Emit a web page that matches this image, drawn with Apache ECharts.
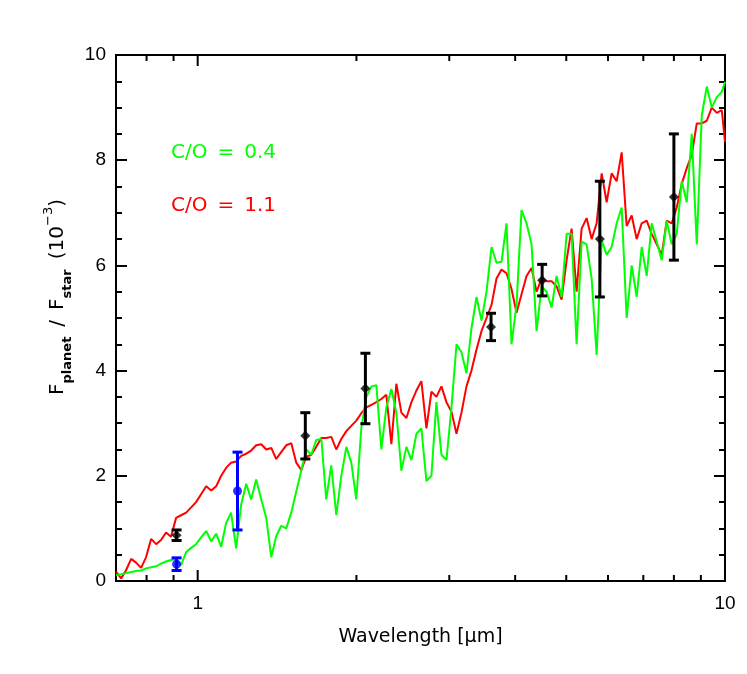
<!DOCTYPE html>
<html>
<head>
<meta charset="utf-8">
<script src="https://cdn.jsdelivr.net/npm/echarts@6/dist/echarts.min.js"></script>
<style>
  html, body { margin: 0; padding: 0; background: #fff; }
  #main { width: 747px; height: 674px; }
</style>
</head>
<body>
<div id="main"></div>
<script>
// wavelength grid (micron) shared by both model spectra
const wavelength = [
  0.700, 0.716, 0.731, 0.748, 0.764, 0.781, 0.798, 0.816, 0.834, 0.852,
  0.871, 0.890, 0.910, 0.930, 0.951, 0.972, 0.993, 1.015, 1.038, 1.061,
  1.084, 1.108, 1.132, 1.157, 1.183, 1.209, 1.236, 1.263, 1.291, 1.320,
  1.349, 1.379, 1.409, 1.440, 1.472, 1.505, 1.538, 1.572, 1.607, 1.642,
  1.678, 1.716, 1.753, 1.792, 1.832, 1.872, 1.914, 1.956, 1.999, 2.043,
  2.089, 2.135, 2.182, 2.230, 2.279, 2.330, 2.381, 2.434, 2.488, 2.543,
  2.599, 2.656, 2.715, 2.775, 2.836, 2.899, 2.963, 3.029, 3.096, 3.164,
  3.234, 3.305, 3.379, 3.453, 3.530, 3.608, 3.687, 3.769, 3.852, 3.937,
  4.024, 4.113, 4.204, 4.297, 4.392, 4.489, 4.588, 4.690, 4.793, 4.899,
  5.008, 5.118, 5.231, 5.347, 5.465, 5.586, 5.709, 5.836, 5.964, 6.096,
  6.231, 6.369, 6.509, 6.653, 6.800, 6.951, 7.104, 7.261, 7.422, 7.586,
  7.753, 7.925, 8.100, 8.279, 8.462, 8.649, 8.840, 9.035, 9.235, 9.439,
  9.648, 9.861, 10.0
]
// C/O = 1.1 model (red)
const fluxCO11 = [
  0.18, 0.05, 0.20, 0.42, 0.35, 0.25, 0.45, 0.80, 0.70, 0.78,
  0.92, 0.84, 1.20, 1.25, 1.30, 1.40, 1.50, 1.65, 1.80, 1.72,
  1.80, 2.00, 2.15, 2.25, 2.27, 2.38, 2.42, 2.48, 2.58, 2.60,
  2.50, 2.53, 2.32, 2.45, 2.58, 2.62, 2.25, 2.11, 2.36, 2.40,
  2.55, 2.72, 2.72, 2.74, 2.50, 2.70, 2.85, 2.95, 3.05, 3.19,
  3.30, 3.35, 3.40, 3.46, 3.54, 2.60, 3.75, 3.20, 3.10, 3.40,
  3.62, 3.80, 2.90, 3.60, 3.50, 3.70, 3.40, 3.22, 2.80, 3.20,
  3.70, 4.00, 4.40, 4.75, 5.00, 5.25, 5.75, 5.92, 5.85, 5.55,
  5.10, 5.45, 5.80, 5.95, 5.50, 5.75, 5.70, 5.70, 5.60, 5.35,
  6.10, 6.70, 5.50, 6.70, 6.90, 6.50, 6.80, 7.75, 7.20, 7.75,
  7.60, 8.15, 6.75, 6.95, 6.50, 6.80, 6.85, 6.60, 6.40, 6.20,
  6.85, 6.80, 7.10, 7.55, 7.85, 8.10, 8.70, 8.70, 8.75, 9.00,
  8.90, 8.95, 8.35
]
// C/O = 0.4 model (green)
const fluxCO04 = [
  0.11, 0.13, 0.15, 0.17, 0.19, 0.20, 0.24, 0.26, 0.28, 0.33,
  0.37, 0.40, 0.42, 0.30, 0.55, 0.63, 0.70, 0.83, 0.95, 0.75,
  0.90, 0.65, 1.10, 1.30, 0.62, 1.45, 1.85, 1.55, 1.93, 1.55,
  1.20, 0.45, 0.85, 1.05, 1.00, 1.30, 1.70, 2.10, 2.50, 2.40,
  2.68, 2.70, 1.55, 2.20, 1.25, 2.00, 2.55, 2.25, 1.55, 2.90,
  3.50, 3.70, 3.72, 2.50, 3.30, 3.65, 3.20, 2.10, 2.55, 2.30,
  2.80, 2.90, 1.90, 2.00, 3.40, 2.40, 2.30, 3.30, 4.50, 4.35,
  3.95, 4.80, 5.40, 4.95, 5.50, 6.35, 6.05, 6.07, 6.80, 4.50,
  5.25, 7.05, 6.80, 6.40, 4.75, 5.60, 5.50, 5.20, 5.80, 5.40,
  6.60, 6.60, 4.50, 6.45, 6.40, 5.75, 4.30, 6.48, 6.20, 6.35,
  6.80, 7.10, 5.00, 6.00, 5.40, 6.35, 5.80, 6.80, 6.45, 6.10,
  6.85, 6.40, 6.60, 7.60, 7.20, 8.50, 6.40, 8.85, 9.40, 9.00,
  9.20, 9.30, 9.49
]
// observed eclipse depths
const blackWl = [0.912, 1.60, 2.08, 3.60, 4.50, 5.79, 8.0]
const blackFlux = [0.87, 2.76, 3.66, 4.83, 5.72, 6.50, 7.30]
const blackErr = [0.10, 0.44, 0.67, 0.26, 0.30, 1.10, 1.20]
const blueWl = [0.912, 1.19]
const blueFlux = [0.32, 1.71]
const blueErr = [0.12, 0.74]
// axis ticks
const xMajorTicks = [1, 10]
const xMinorTicks = [0.8, 0.9, 2, 3, 4, 5, 6, 7, 8, 9]
const yMin = 0
const yMax = 10

const myChart = echarts.init(document.getElementById('main'))

function errorBar(color) {
  return function (params, api) {
    const x = api.value(0), y = api.value(1), e = api.value(2)
    const top = api.coord([x, y + e])
    const bot = api.coord([x, y - e])
    const st = { stroke: color, lineWidth: 3 }
    return {
      type: 'group',
      children: [
        { type: 'line', shape: { x1: top[0], y1: top[1], x2: bot[0], y2: bot[1] }, style: st },
        { type: 'line', shape: { x1: top[0] - 5, y1: top[1], x2: top[0] + 5, y2: top[1] }, style: st },
        { type: 'line', shape: { x1: bot[0] - 5, y1: bot[1], x2: bot[0] + 5, y2: bot[1] }, style: st }
      ]
    }
  }
}

function xTick(len) {
  return function (params, api) {
    const v = api.value(0)
    const b = api.coord([v, yMin])
    const t = api.coord([v, yMax])
    const st = { stroke: '#000', lineWidth: 2 }
    return {
      type: 'group',
      children: [
        { type: 'line', shape: { x1: b[0], y1: b[1], x2: b[0], y2: b[1] - len }, style: st },
        { type: 'line', shape: { x1: t[0], y1: t[1], x2: t[0], y2: t[1] + len }, style: st }
      ]
    }
  }
}

const yAxisCommon = {
  type: 'value',
  min: yMin,
  max: yMax,
  interval: 2,
  axisLine: { show: true, lineStyle: { color: '#000', width: 2 } },
  axisTick: { inside: true, length: 11, lineStyle: { color: '#000', width: 2 } },
  minorTick: { show: true, splitNumber: 4, length: 6, lineStyle: { color: '#000', width: 2 } },
  splitLine: { show: false },
  minorSplitLine: { show: false }
}

myChart.setOption({
  animation: false,
  backgroundColor: '#fff',
  grid: { left: 116, right: 22, top: 55, bottom: 93, show: true, borderColor: '#000', borderWidth: 2 },
  xAxis: {
    type: 'log',
    logBase: 10,
    min: 0.7,
    max: 10,
    axisLine: { show: true, lineStyle: { color: '#000', width: 2 } },
    axisTick: { show: false },
    splitLine: { show: false },
    axisLabel: {
      color: '#000',
      fontSize: 19,
      fontFamily: 'Liberation Sans',
      margin: 13,
      showMinLabel: false,
      formatter: v => (Math.abs(v - 1) < 1e-6 || Math.abs(v - 10) < 1e-6) ? String(Math.round(v)) : ''
    },
    name: 'Wavelength [\u03bcm]',
    nameLocation: 'middle',
    nameGap: 47,
    nameTextStyle: { color: '#000', fontSize: 19, fontFamily: 'DejaVu Sans' }
  },
  yAxis: [
    Object.assign({}, yAxisCommon, {
      position: 'left',
      axisLabel: { color: '#000', fontSize: 19, fontFamily: 'Liberation Sans', margin: 10 },
      name: '{n|F}{sub|planet}{n|\u2002/\u2002F}{sub|star}{n|\u2002(10}{sup|\u22123}{n|)}',
      nameLocation: 'middle',
      nameGap: 42,
      nameTextStyle: {
        color: '#000',
        padding: [0, 0, 0, 42],
        rich: {
          n: { fontSize: 20, fontFamily: 'DejaVu Sans', color: '#000', lineHeight: 32, verticalAlign: 'middle' },
          sub: { fontSize: 13, fontFamily: 'DejaVu Sans', fontWeight: 'bold', color: '#000', lineHeight: 15, verticalAlign: 'bottom' },
          sup: { fontSize: 13, fontFamily: 'DejaVu Sans', color: '#000', lineHeight: 15, verticalAlign: 'top' }
        }
      }
    }),
    Object.assign({}, yAxisCommon, {
      position: 'right',
      axisLabel: { show: false }
    })
  ],
  graphic: [
    { type: 'text', left: 171, top: 143, style: { text: 'C/O\u2002=\u20020.4', fill: '#00ff00', font: '20px "DejaVu Sans"' } },
    { type: 'text', left: 171, top: 196, style: { text: 'C/O\u2002=\u20021.1', fill: '#ff0000', font: '20px "DejaVu Sans"' } }
  ],
  series: [
    {
      name: 'C/O = 1.1',
      type: 'line',
      data: wavelength.map((w, i) => [w, fluxCO11[i]]),
      showSymbol: false,
      lineStyle: { color: '#ff0000', width: 2 },
      z: 2
    },
    {
      name: 'C/O = 0.4',
      type: 'line',
      data: wavelength.map((w, i) => [w, fluxCO04[i]]),
      showSymbol: false,
      lineStyle: { color: '#00ff00', width: 2 },
      z: 3
    },
    {
      type: 'custom',
      renderItem: errorBar('#000'),
      data: blackWl.map((w, i) => [w, blackFlux[i], blackErr[i]]),
      encode: { x: 0, y: 1 },
      z: 4
    },
    {
      type: 'scatter',
      data: blackWl.map((w, i) => [w, blackFlux[i]]),
      symbol: 'diamond',
      symbolSize: 10,
      itemStyle: { color: '#000' },
      z: 5
    },
    {
      type: 'custom',
      renderItem: errorBar('#0000ff'),
      data: blueWl.map((w, i) => [w, blueFlux[i], blueErr[i]]),
      encode: { x: 0, y: 1 },
      z: 4
    },
    {
      type: 'scatter',
      data: blueWl.map((w, i) => [w, blueFlux[i]]),
      symbol: 'circle',
      symbolSize: 9,
      itemStyle: { color: '#0000ff' },
      z: 5
    },
    {
      type: 'custom',
      renderItem: xTick(11),
      data: xMajorTicks.map(v => [v, yMin]),
      encode: { x: 0, y: 1 },
      clip: false,
      silent: true,
      z: 6
    },
    {
      type: 'custom',
      renderItem: xTick(6),
      data: xMinorTicks.map(v => [v, yMin]),
      encode: { x: 0, y: 1 },
      clip: false,
      silent: true,
      z: 6
    }
  ]
})
</script>
</body>
</html>
